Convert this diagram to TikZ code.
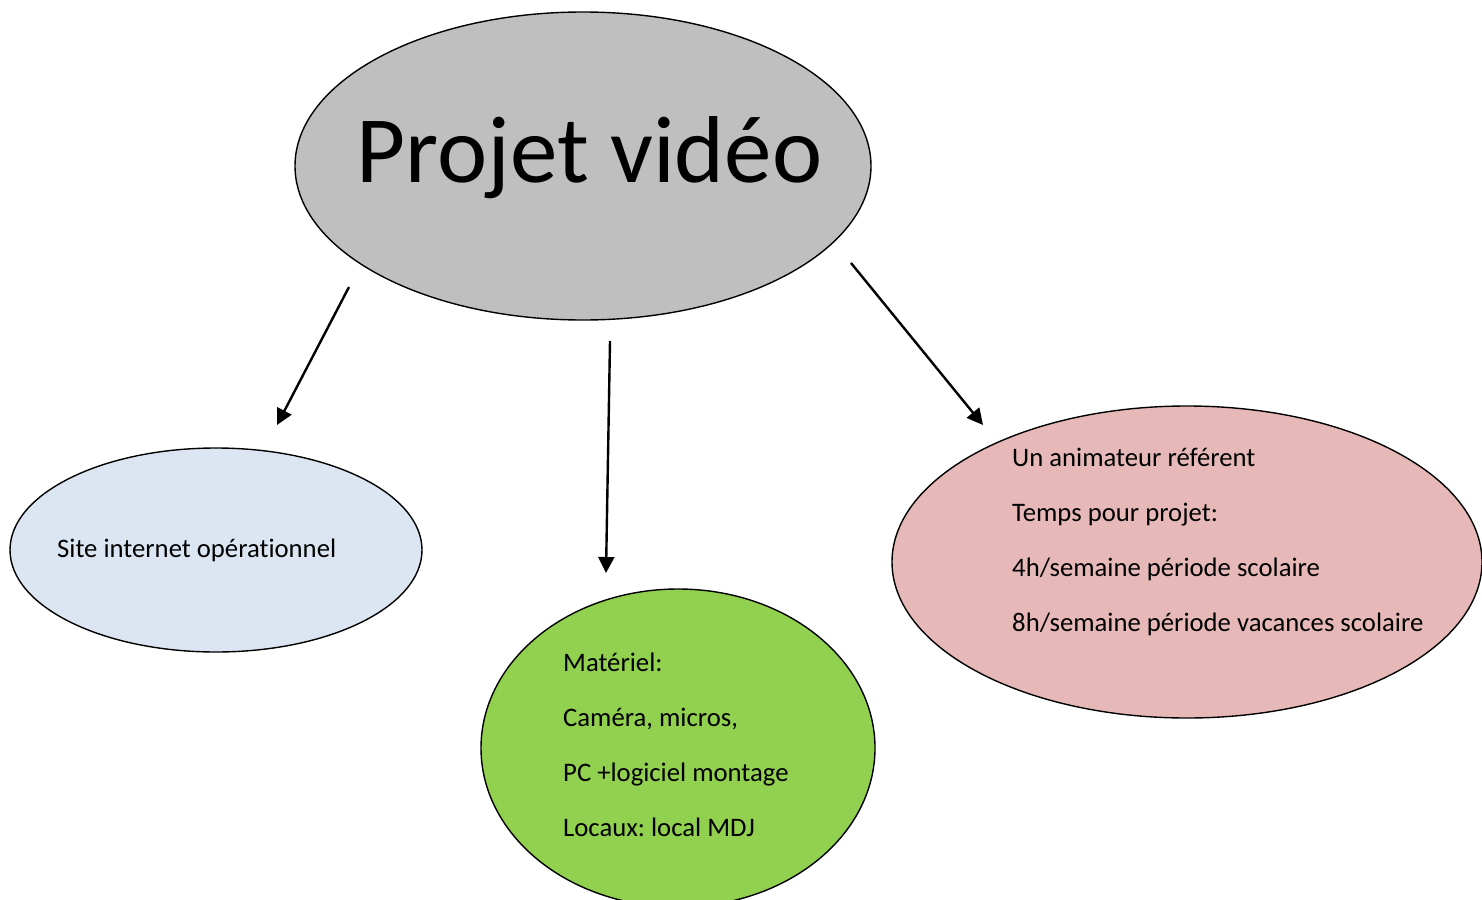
\documentclass[tikz,border=0pt]{standalone}
\usepackage{fontspec}
\setmainfont[Ligatures=NoCommon]{Carlito}
\frenchspacing
\usetikzlibrary{shapes.geometric,arrows.meta}
\definecolor{cgray}{HTML}{BFBFBF}
\definecolor{cblue}{HTML}{DCE6F2}
\definecolor{cgreen}{HTML}{92D050}
\definecolor{cpink}{HTML}{E6B9B8}
\tikzset{
  blob/.style={ellipse, draw=black, line width=1.4pt, inner sep=0pt},
  lbl/.style={anchor=base west, inner sep=0pt, font=\fontsize{26.7}{30}\selectfont},
  conn/.style={line width=2.4pt, -{Triangle[length=16pt,width=16pt]}}
}
\begin{document}
\begin{tikzpicture}[x=1pt,y=-1pt]
\useasboundingbox (0,0) rectangle (1482,899);
% ellipses
\node[blob, fill=cgray, minimum width=576pt, minimum height=308pt] (top) at (583,166) {};
\node[blob, fill=cblue, minimum width=412pt, minimum height=204pt] (left) at (216,550) {};
\node[blob, fill=cgreen, minimum width=394pt, minimum height=318pt] (mid) at (678,748) {};
\node[blob, fill=cpink, minimum width=590pt, minimum height=312pt] (right) at (1187,562) {};
% title
\node[anchor=base, inner sep=0pt, font=\fontsize{95}{100}\selectfont] (title) at (589.5,182) {Projet vidéo};
% texts
\node[lbl] (t1) at (57,557) {Site internet opérationnel};
\node[lbl] (m1) at (563,671) {Matériel:};
\node[lbl] (m2) at (563,726) {Caméra, micros,};
\node[lbl] (m3) at (563,781) {PC +logiciel montage};
\node[lbl] (m4) at (563,836) {Locaux: local MDJ};
\node[lbl] (r1) at (1012,466) {Un animateur référent};
\node[lbl] (r2) at (1012,521) {Temps pour projet:};
\node[lbl] (r3) at (1012,576) {4h/semaine période scolaire};
\node[lbl] (r4) at (1012,631) {8h/semaine période vacances scolaire};
% arrows
\coordinate (a1s) at (349,287);
\coordinate (a1e) at (277,425);
\coordinate (a2s) at (610,341);
\coordinate (a2e) at (606,573);
\coordinate (a3s) at (851,263);
\coordinate (a3e) at (983,425);
\draw[conn] (a1s) -- (a1e);
\draw[conn] (a2s) -- (a2e);
\draw[conn] (a3s) -- (a3e);
\end{tikzpicture}
\end{document}
